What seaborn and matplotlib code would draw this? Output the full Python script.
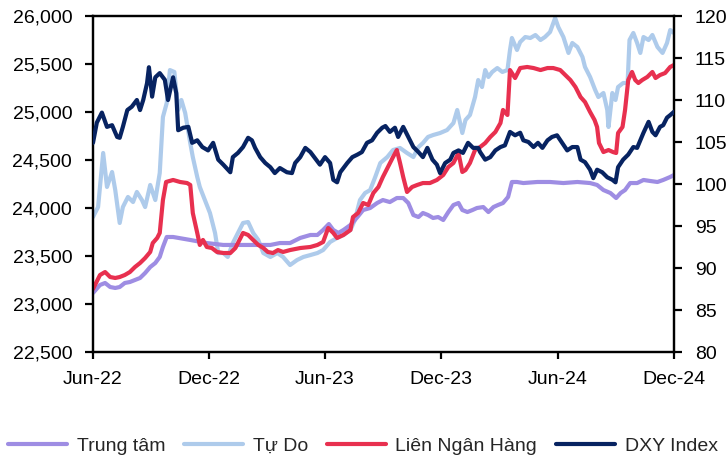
import pandas as pd
import matplotlib
matplotlib.use("Agg")
import matplotlib.pyplot as plt
from matplotlib.ticker import FuncFormatter, MultipleLocator
import seaborn as sns

# Observation dates are stored as day offsets from the first observation
start_date = "2022-06-01"

trung_tam_days = [0, 11, 19, 27, 35, 42, 50, 58, 66, 74, 82, 90, 98, 105, 110, 116, 126, 153, 179, 205,
                  231, 258, 279, 294, 310, 326, 342, 353, 362, 371, 378, 386, 394, 405, 416, 425, 436, 447,
                  456, 467, 478, 488, 496, 504, 512, 519, 527, 535, 543, 551, 559, 567, 575, 581, 589, 597,
                  604, 614, 622, 630, 637, 645, 653, 659, 667, 677, 699, 719, 740, 762, 782, 793, 803, 814,
                  823, 830, 837, 845, 856, 866, 877, 888, 897, 908, 914]
trung_tam = [23115, 23198, 23219, 23177, 23167, 23177, 23219, 23229, 23250, 23271, 23323, 23385, 23427,
             23490, 23594, 23698, 23698, 23667, 23635, 23615, 23615, 23615, 23615, 23635, 23635, 23688,
             23719, 23719, 23771, 23833, 23771, 23740, 23771, 23823, 23906, 23979, 24000, 24052, 24083,
             24062, 24104, 24104, 24052, 23927, 23906, 23948, 23927, 23896, 23906, 23875, 23958, 24031,
             24052, 23979, 23958, 23979, 24000, 24010, 23958, 24010, 24031, 24052, 24115, 24271, 24271,
             24260, 24271, 24271, 24260, 24271, 24260, 24240, 24187, 24156, 24104, 24156, 24187, 24260,
             24260, 24292, 24281, 24271, 24292, 24323, 24344]

tu_do_days = [0, 8, 16, 22, 30, 35, 42, 47, 55, 63, 69, 77, 82, 90, 98, 105, 110, 116, 121, 128, 134, 139,
              145, 153, 157, 164, 168, 176, 184, 192, 197, 205, 212, 220, 228, 236, 244, 252, 260, 268, 279,
              290, 299, 310, 321, 331, 342, 353, 362, 373, 384, 394, 405, 412, 420, 428, 436, 444, 452, 463,
              472, 483, 494, 504, 512, 519, 527, 535, 546, 557, 567, 573, 581, 586, 593, 601, 606, 612, 617,
              622, 628, 636, 644, 652, 656, 659, 667, 672, 680, 688, 696, 704, 711, 719, 727, 732, 740, 748,
              754, 762, 770, 774, 782, 790, 795, 803, 809, 811, 817, 822, 826, 834, 841, 844, 850, 856, 861,
              866, 874, 880, 888, 896, 903, 908, 914]
tu_do = [23906, 24010, 24573, 24219, 24375, 24187, 23844, 24010, 24115, 24062, 24167, 24083, 24010, 24240,
         24083, 24365, 24948, 25094, 25437, 25417, 25021, 25125, 24990, 24677, 24531, 24323, 24219, 24083,
         23948, 23740, 23531, 23531, 23490, 23635, 23740, 23844, 23854, 23740, 23667, 23531, 23490, 23531,
         23490, 23406, 23458, 23490, 23510, 23531, 23562, 23646, 23688, 23719, 23771, 23875, 24083, 24156,
         24187, 24323, 24469, 24531, 24604, 24625, 24573, 24531, 24635, 24677, 24740, 24760, 24781, 24812,
         24885, 25021, 24781, 24917, 24969, 25156, 25333, 25260, 25437, 25365, 25417, 25458, 25417, 25437,
         25646, 25771, 25646, 25729, 25781, 25771, 25802, 25750, 25781, 25833, 25979, 25885, 25781, 25615,
         25719, 25677, 25573, 25469, 25365, 25229, 25156, 25198, 25021, 24844, 25198, 25125, 25260, 25302,
         25302, 25750, 25823, 25719, 25615, 25781, 25750, 25802, 25677, 25615, 25719, 25854, 25823]

lien_ngan_hang_days = [0, 11, 19, 27, 35, 42, 50, 58, 66, 74, 82, 90, 94, 101, 105, 110, 115, 126, 137, 148,
                       153, 157, 164, 168, 173, 179, 187, 195, 205, 216, 224, 228, 236, 244, 252, 260, 268,
                       275, 283, 291, 299, 310, 326, 342, 353, 362, 370, 378, 384, 394, 405, 409, 417, 425,
                       433, 441, 449, 456, 464, 472, 478, 483, 488, 494, 502, 510, 519, 530, 541, 551, 559,
                       567, 575, 581, 586, 593, 601, 609, 617, 625, 633, 641, 645, 652, 656, 664, 672, 683,
                       693, 704, 715, 724, 735, 743, 751, 759, 767, 774, 782, 789, 793, 796, 803, 811, 818,
                       823, 826, 833, 837, 842, 848, 853, 858, 864, 872, 880, 885, 892, 900, 908, 914]
lien_ngan_hang = [23156, 23302, 23333, 23281, 23271, 23281, 23302, 23333, 23385, 23427, 23479, 23542,
                  23635, 23688, 23740, 24083, 24271, 24292, 24271, 24260, 24240, 23948, 23740, 23615, 23667,
                  23594, 23583, 23542, 23531, 23531, 23583, 23635, 23740, 23719, 23667, 23615, 23583, 23542,
                  23531, 23562, 23542, 23562, 23583, 23594, 23615, 23646, 23792, 23740, 23688, 23719, 23771,
                  23906, 23948, 24052, 24031, 24156, 24219, 24323, 24427, 24531, 24604, 24469, 24323, 24167,
                  24219, 24240, 24260, 24260, 24292, 24344, 24427, 24469, 24573, 24375, 24396, 24469, 24604,
                  24635, 24677, 24740, 24792, 24885, 25021, 24969, 25437, 25354, 25458, 25469, 25458, 25437,
                  25458, 25458, 25437, 25385, 25333, 25260, 25156, 25104, 25000, 24917, 24844, 24677, 24583,
                  24604, 24583, 24573, 24781, 24844, 25021, 25333, 25417, 25333, 25302, 25333, 25365, 25417,
                  25354, 25385, 25406, 25469, 25490]

dxy_days = [0, 6, 14, 22, 30, 38, 42, 47, 54, 61, 69, 74, 79, 85, 88, 93, 98, 105, 113, 118, 126, 131, 134,
            142, 150, 156, 164, 172, 181, 189, 197, 205, 216, 220, 228, 236, 244, 250, 255, 263, 271, 279,
            286, 294, 305, 313, 318, 326, 334, 342, 349, 357, 365, 373, 378, 384, 389, 400, 408, 416, 423,
            431, 439, 447, 455, 460, 467, 475, 480, 488, 496, 504, 512, 519, 526, 534, 541, 546, 554, 562,
            567, 575, 582, 590, 598, 606, 609, 617, 625, 633, 641, 648, 656, 664, 672, 677, 685, 693, 700,
            707, 715, 722, 730, 738, 746, 754, 762, 767, 774, 782, 787, 793, 801, 809, 817, 822, 826, 834,
            842, 850, 856, 861, 866, 874, 880, 885, 892, 897, 903, 908, 914]
dxy = [104.9, 107.3, 108.5, 106.8, 107.0, 105.6, 105.5, 106.8, 108.8, 109.2, 110.0, 108.8, 110.0, 112.0,
       113.9, 110.4, 112.7, 113.2, 112.4, 110.0, 112.7, 110.8, 106.4, 106.7, 106.8, 104.9, 105.2, 104.4,
       104.0, 104.9, 102.9, 102.3, 101.4, 103.2, 103.7, 104.4, 105.5, 105.2, 104.3, 103.2, 102.5, 102.0,
       101.3, 101.9, 101.4, 101.3, 102.5, 103.2, 104.3, 103.8, 103.1, 102.3, 103.2, 102.5, 100.5, 100.2,
       101.4, 102.5, 103.2, 103.5, 103.8, 104.9, 105.2, 106.1, 106.7, 106.9, 106.2, 106.7, 105.6, 106.8,
       105.6, 104.4, 103.8, 103.2, 104.3, 102.9, 102.3, 101.3, 102.5, 102.9, 103.7, 104.0, 103.7, 104.9,
       104.3, 104.3, 103.8, 102.9, 103.2, 104.0, 104.4, 104.6, 106.2, 105.8, 106.1, 105.2, 105.0, 104.4,
       104.9, 104.3, 105.2, 105.6, 105.8, 104.9, 104.0, 104.4, 104.4, 102.9, 102.6, 101.7, 100.7, 101.7,
       101.4, 100.8, 100.5, 100.2, 102.0, 102.9, 103.5, 104.4, 104.3, 105.2, 106.1, 107.4, 106.2, 105.8,
       106.8, 107.0, 107.9, 108.2, 108.6]

tick_dates = ["2022-06-01", "2022-12-01", "2023-06-01", "2023-12-01", "2024-06-01", "2024-12-01"]
tick_labels = ["Jun-22", "Dec-22", "Jun-23", "Dec-23", "Jun-24", "Dec-24"]

left_labels = ["Trung tâm", "Tự Do", "Liên Ngân Hàng"]
right_label = "DXY Index"


def to_dates(days):
    return pd.Timestamp(start_date) + pd.to_timedelta(days, unit="D")


sns.set_style("ticks")
plt.rcParams["font.family"] = ["Liberation Sans", "DejaVu Sans"]
plt.rcParams["axes.edgecolor"] = "black"
plt.rcParams["axes.linewidth"] = 1.6

FS = 14
LW = 3.0

fig = plt.figure(figsize=(7.26, 4.61), dpi=100)
ax = fig.add_axes([93 / 726, 1 - 352 / 461, (674 - 93) / 726, (352 - 16) / 461])
ax2 = ax.twinx()

sns.lineplot(x=to_dates(tu_do_days), y=tu_do, ax=ax, color="#aecbeb", lw=LW, label=left_labels[1], zorder=2)
sns.lineplot(x=to_dates(trung_tam_days), y=trung_tam, ax=ax, color="#9e8de3", lw=LW, label=left_labels[0], zorder=3)
sns.lineplot(x=to_dates(lien_ngan_hang_days), y=lien_ngan_hang, ax=ax, color="#e8304f", lw=LW,
             label=left_labels[2], zorder=4)
sns.lineplot(x=to_dates(dxy_days), y=dxy, ax=ax2, color="#072361", lw=LW, label=right_label, zorder=5)

for a in (ax, ax2):
    if a.get_legend() is not None:
        a.get_legend().remove()
    a.set_xlabel("")
    a.set_ylabel("")

ax.set_xlim(pd.Timestamp(tick_dates[0]), pd.Timestamp(tick_dates[-1]))
ax.set_xticks(pd.to_datetime(tick_dates))
ax.set_xticklabels(tick_labels)
ax.set_ylim(22500, 26000)
ax.yaxis.set_major_locator(MultipleLocator(500))
ax.yaxis.set_major_formatter(FuncFormatter(lambda v, p: f"{v:,.0f}"))
ax2.set_ylim(80, 120)
ax2.yaxis.set_major_locator(MultipleLocator(5))

ax.tick_params(axis="y", direction="out", length=6, width=1.6, pad=9, labelsize=FS, colors="black")
ax.tick_params(axis="x", direction="out", length=5, width=1.6, pad=9, labelsize=FS, colors="black")
ax2.tick_params(axis="y", direction="out", length=6, width=1.6, pad=9, labelsize=FS, colors="black")

for a in (ax, ax2):
    for s in a.spines.values():
        s.set_visible(True)
        s.set_color("black")
        s.set_linewidth(1.6)

h1, l1 = ax.get_legend_handles_labels()
h2, l2 = ax2.get_legend_handles_labels()
order = [left_labels[0], left_labels[1], left_labels[2], right_label]
lookup = dict(zip(l1 + l2, h1 + h2))
fig.legend([lookup[k] for k in order], order, loc="center", bbox_to_anchor=(0.5, 1 - 446 / 461),
           ncol=4, frameon=False, fontsize=FS, handlelength=3.0, handletextpad=0.5, columnspacing=1.0)

fig.savefig("out.png", dpi=100)
